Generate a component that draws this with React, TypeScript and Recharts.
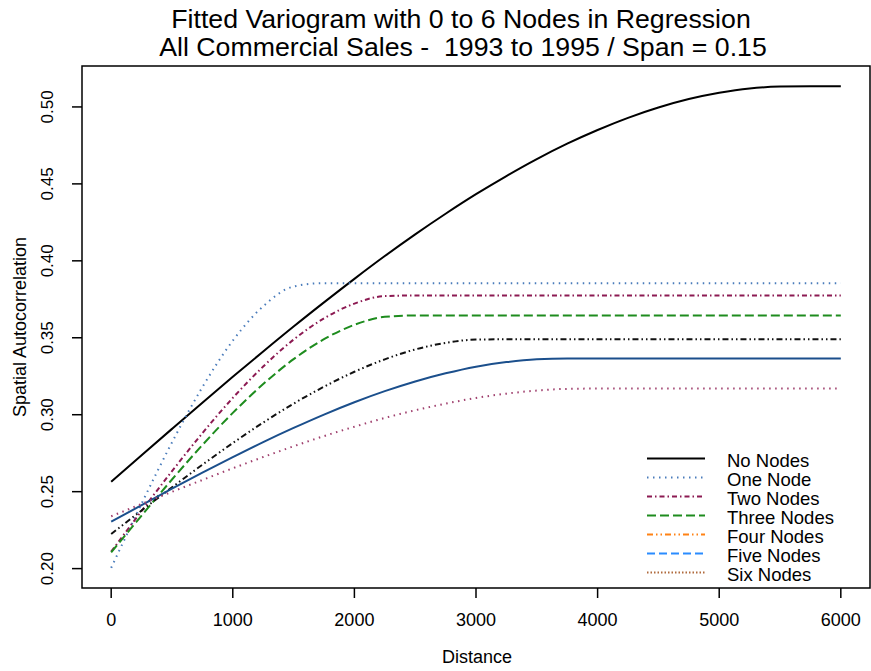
import { LineChart, Line, XAxis, YAxis, ReferenceArea } from 'recharts';

// Fitted spherical-looking variogram curves, every 250 units.
const DISTANCE = [
  0, 250, 500, 750, 1000, 1250, 1500, 1750, 2000, 2250, 2500, 2750, 3000,
  3250, 3500, 3750, 4000, 4250, 4500, 4750, 5000, 5250, 5500, 5750, 6000,
];

const NO_NODES = [
  0.2565, 0.2737, 0.2908, 0.3078, 0.3246, 0.3411, 0.3573, 0.373, 0.3883, 0.4031, 0.4172, 0.4306, 0.4433,
  0.4551, 0.4661, 0.4761, 0.485, 0.4929, 0.4996, 0.5051, 0.5092, 0.512, 0.5132, 0.5135, 0.5135,
];
const ONE_NODE = [
  0.2005, 0.2422, 0.282, 0.3179, 0.3481, 0.3705, 0.3833, 0.3855, 0.3855, 0.3855, 0.3855, 0.3855, 0.3855,
  0.3855, 0.3855, 0.3855, 0.3855, 0.3855, 0.3855, 0.3855, 0.3855, 0.3855, 0.3855, 0.3855, 0.3855,
];
const TWO_NODES = [
  0.211, 0.2375, 0.2633, 0.288, 0.3109, 0.3313, 0.3488, 0.3626, 0.3722, 0.3771, 0.3775, 0.3775, 0.3775,
  0.3775, 0.3775, 0.3775, 0.3775, 0.3775, 0.3775, 0.3775, 0.3775, 0.3775, 0.3775, 0.3775, 0.3775,
];
const THREE_NODES = [
  0.2105, 0.2345, 0.2579, 0.2803, 0.3012, 0.3199, 0.3361, 0.3491, 0.3584, 0.3636, 0.3645, 0.3645, 0.3645,
  0.3645, 0.3645, 0.3645, 0.3645, 0.3645, 0.3645, 0.3645, 0.3645, 0.3645, 0.3645, 0.3645, 0.3645,
];
const FOUR_NODES = [
  0.2225, 0.2378, 0.2528, 0.2675, 0.2816, 0.2949, 0.3072, 0.3182, 0.3279, 0.336, 0.3424, 0.3467, 0.3488,
  0.349, 0.349, 0.349, 0.349, 0.349, 0.349, 0.349, 0.349, 0.349, 0.349, 0.349, 0.349,
];
const FIVE_NODES = [
  0.2305, 0.2412, 0.2519, 0.2623, 0.2724, 0.2822, 0.2914, 0.3001, 0.3081, 0.3153, 0.3216, 0.3269, 0.3312,
  0.3342, 0.336, 0.3365, 0.3365, 0.3365, 0.3365, 0.3365, 0.3365, 0.3365, 0.3365, 0.3365, 0.3365,
];
const SIX_NODES = [
  0.234, 0.242, 0.2499, 0.2576, 0.2652, 0.2725, 0.2795, 0.2861, 0.2922, 0.2979, 0.3029, 0.3072, 0.3109,
  0.3137, 0.3157, 0.3168, 0.317, 0.317, 0.317, 0.317, 0.317, 0.317, 0.317, 0.317, 0.317,
];

const X_TICKS = [0, 1000, 2000, 3000, 4000, 5000, 6000];
const Y_TICKS = [0.2, 0.25, 0.3, 0.35, 0.4, 0.45, 0.5];

const FONT = '"Liberation Sans", Arial, Helvetica, sans-serif';

// plot colours (as drawn) and legend colours (as keyed) differ in the original
const SERIES = [
  { key: 'none', name: 'No Nodes', values: NO_NODES, stroke: '#000000', dash: undefined, legStroke: '#000000', legDash: undefined },
  { key: 'one', name: 'One Node', values: ONE_NODE, stroke: '#4a7cbb', dash: '1.5 4.5', legStroke: '#4a7cbb', legDash: '1.5 4.5' },
  { key: 'two', name: 'Two Nodes', values: TWO_NODES, stroke: '#8c1a52', dash: '5 3 1.5 3', legStroke: '#8c1a52', legDash: '5 3 1.5 3' },
  { key: 'three', name: 'Three Nodes', values: THREE_NODES, stroke: '#1e8c1e', dash: '9 4', legStroke: '#1e8c1e', legDash: '9 4' },
  { key: 'four', name: 'Four Nodes', values: FOUR_NODES, stroke: '#111111', dash: '6 3 1.5 3 1.5 3', legStroke: '#ff8214', legDash: '6 3 1.5 3 1.5 3' },
  { key: 'five', name: 'Five Nodes', values: FIVE_NODES, stroke: '#1b4f8c', dash: undefined, legStroke: '#2a8cff', legDash: '8 4' },
  { key: 'six', name: 'Six Nodes', values: SIX_NODES, stroke: '#a0406e', dash: '1.5 4.5', legStroke: '#b06a3c', legDash: '1.5 2' },
];

const data = DISTANCE.map((d, i) => {
  const row: Record<string, number> = { d };
  SERIES.forEach((s) => { row[s.key] = s.values[i]; });
  return row;
});

function YTick({ x, y, payload }: any) {
  const cx = x - 22;
  return (
    <text x={cx} y={y} transform={`rotate(-90, ${cx}, ${y})`} textAnchor="middle"
      dominantBaseline="central" fontSize={17} fontFamily={FONT} fill="#000">
      {Number(payload.value).toFixed(2)}
    </text>
  );
}

function LegendBox() {
  return (
    <div style={{ position: 'absolute', left: 647, top: 449, fontFamily: FONT, fontSize: 18.5, color: '#000' }}>
      {SERIES.map((s) => (
        <div key={s.key} style={{ display: 'flex', alignItems: 'center', height: 19 }}>
          <svg width={80} height={19} style={{ flex: 'none' }}>
            <line x1={0} x2={58} y1={9.5} y2={9.5} stroke={s.legStroke} strokeWidth={2} strokeDasharray={s.legDash} />
          </svg>
          <span style={{ lineHeight: '19px', whiteSpace: 'nowrap', position: 'relative', top: 2 }}>{s.name}</span>
        </div>
      ))}
    </div>
  );
}

export default function App() {
  return (
    <div style={{ position: 'absolute', left: 0, top: 0, width: 871, height: 671, background: '#fff', fontFamily: FONT }}>
      <LineChart width={871} height={671} data={data} margin={{ top: 66, right: 1, bottom: 0, left: 0 }}>
        <XAxis
          dataKey="d"
          type="number"
          domain={[-240, 6240]}
          ticks={X_TICKS}
          allowDataOverflow
          height={83}
          axisLine={false}
          tickLine={{ stroke: '#000', strokeWidth: 1.5 }}
          tickSize={10}
          tickMargin={15}
          tick={{ fill: '#000', fontSize: 18, fontFamily: FONT }}
        />
        <YAxis
          type="number"
          domain={[0.1874, 0.5266]}
          ticks={Y_TICKS}
          allowDataOverflow
          width={82}
          axisLine={false}
          tickLine={{ stroke: '#000', strokeWidth: 1.5 }}
          tickSize={10}
          tick={<YTick />}
        />
        <ReferenceArea x1={-240} x2={6240} y1={0.1874} y2={0.5266} fill="none" stroke="#000" strokeWidth={1.5} ifOverflow="visible" />
        {SERIES.map((s) => (
          <Line
            key={s.key}
            type="monotone"
            dataKey={s.key}
            name={s.name}
            stroke={s.stroke}
            strokeWidth={2}
            strokeDasharray={s.dash}
            dot={false}
            activeDot={false}
            isAnimationActive={false}
          />
        ))}
      </LineChart>
      <LegendBox />
      <div style={{ position: 'absolute', left: 461, top: 19, transform: 'translate(-50%, -50%)', fontSize: 26.7, lineHeight: 1, whiteSpace: 'pre' }}>
        Fitted Variogram with 0 to 6 Nodes in Regression
      </div>
      <div style={{ position: 'absolute', left: 463, top: 47, transform: 'translate(-50%, -50%)', fontSize: 26.7, lineHeight: 1, whiteSpace: 'pre' }}>
        {'All Commercial Sales -  1993 to 1995 / Span = 0.15'}
      </div>
      <div style={{ position: 'absolute', left: 477, top: 657, transform: 'translate(-50%, -50%)', fontSize: 18 }}>
        Distance
      </div>
      <div style={{ position: 'absolute', left: 20, top: 327, transform: 'translate(-50%, -50%) rotate(-90deg)', fontSize: 18, whiteSpace: 'nowrap' }}>
        Spatial Autocorrelation
      </div>
    </div>
  );
}
